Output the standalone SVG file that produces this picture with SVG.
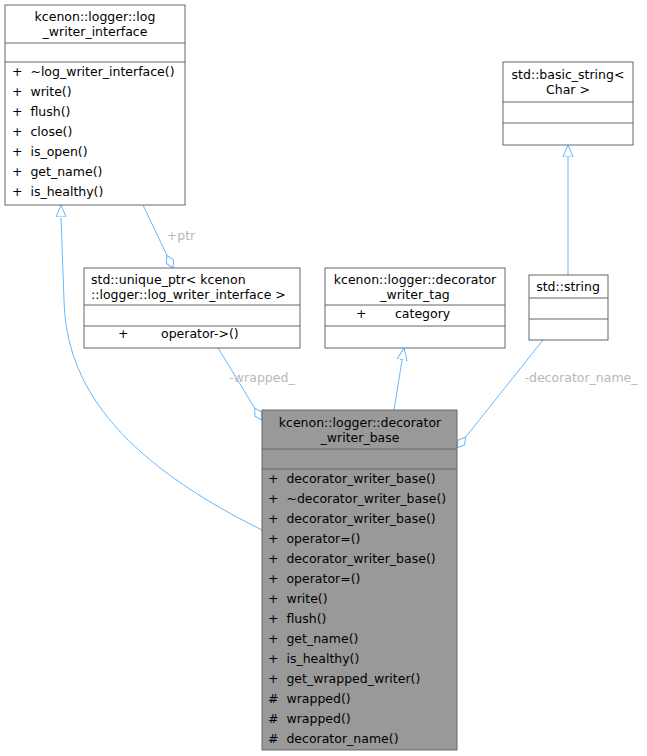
<svg xmlns="http://www.w3.org/2000/svg" width="647" height="756" viewBox="0 0 647 756" xml:space="preserve">
<style>
text{font-family:"DejaVu Sans",sans-serif;font-size:12.5px;fill:#000;white-space:pre}
.c{text-anchor:middle}
.b{fill:#fff;stroke:#666;stroke-width:1}
.m{fill:#999;stroke:#666;stroke-width:1}
.s{stroke:#666;stroke-width:1}
.e{fill:none;stroke:#63b8ff;stroke-width:1}
.l{fill:#b8b8b8;text-anchor:middle}
</style>
<defs>
<marker id="tri" viewBox="0 0 12 12" refX="0" refY="6" markerWidth="12" markerHeight="12" orient="auto" markerUnits="userSpaceOnUse"><path d="M12,1 L0,6 L12,11 Z" fill="#fff" stroke="#63b8ff"/></marker>
<marker id="dia" viewBox="0 0 16 10" refX="0" refY="5" markerWidth="16" markerHeight="10" orient="auto" markerUnits="userSpaceOnUse"><path d="M0,5 L7,1 L14,5 L7,9 Z" fill="#fff" stroke="#63b8ff"/></marker>
</defs>
<g id="edges">
<path class="e" d="M262,530 C100,450 66,370 64,300 L61,218"/>
<path class="e" marker-start="url(#tri)" d="M61,205 L61,206"/>
<path class="e" marker-start="url(#dia)" d="M173,268 L143,205"/>
<text class="l" x="181" y="240">+ptr</text>
<path class="e" marker-start="url(#dia)" d="M262,420 L218,348"/>
<text class="l" x="262" y="382">-wrapped_</text>
<path class="e" marker-start="url(#tri)" d="M404,348 L394,410"/>
<path class="e" marker-start="url(#dia)" d="M457,448 L543,340"/>
<text class="l" x="581" y="382">-decorator_name_</text>
<path class="e" marker-start="url(#tri)" d="M568,145 L568,275"/>
</g>
<g id="log_writer_interface">
<rect class="b" x="5" y="5" width="180" height="200"/>
<line class="s" x1="5" y1="43" x2="185" y2="43"/><line class="s" x1="5" y1="62" x2="185" y2="62"/>
<text class="c" x="95" y="21">kcenon::logger::log</text><text class="c" x="95" y="36">_writer_interface</text>
<text x="12" y="76">+  ~log_writer_interface()</text>
<text x="12" y="96">+  write()</text>
<text x="12" y="116">+  flush()</text>
<text x="12" y="136">+  close()</text>
<text x="12" y="156">+  is_open()</text>
<text x="12" y="176">+  get_name()</text>
<text x="12" y="196">+  is_healthy()</text>
</g>
<g id="unique_ptr">
<rect class="b" x="84" y="268" width="216" height="80"/>
<line class="s" x1="84" y1="305" x2="300" y2="305"/><line class="s" x1="84" y1="326" x2="300" y2="326"/>
<text x="91" y="284">std::unique_ptr&lt; kcenon</text><text x="91" y="299">::logger::log_writer_interface &gt;</text>
<text x="118" y="338">+</text><text x="161" y="338">operator-&gt;()</text>
</g>
<g id="decorator_writer_tag">
<rect class="b" x="325" y="268" width="180" height="80"/>
<line class="s" x1="325" y1="305" x2="505" y2="305"/><line class="s" x1="325" y1="326" x2="505" y2="326"/>
<text class="c" x="415" y="284">kcenon::logger::decorator</text><text class="c" x="415" y="299">_writer_tag</text>
<text x="356" y="318">+</text><text x="395" y="318">category</text>
</g>
<g id="basic_string">
<rect class="b" x="503" y="62" width="130" height="83"/>
<line class="s" x1="503" y1="102" x2="633" y2="102"/><line class="s" x1="503" y1="123" x2="633" y2="123"/>
<text class="c" x="568" y="79">std::basic_string&lt;</text><text class="c" x="568" y="94">Char &gt;</text>
</g>
<g id="string">
<rect class="b" x="529" y="275" width="79" height="65"/>
<line class="s" x1="529" y1="298" x2="608" y2="298"/><line class="s" x1="529" y1="319" x2="608" y2="319"/>
<text class="c" x="568" y="291">std::string</text>
</g>
<g id="decorator_writer_base">
<rect class="m" x="262" y="410" width="195" height="340"/>
<line class="s" x1="262" y1="449" x2="457" y2="449"/><line class="s" x1="262" y1="469" x2="457" y2="469"/>
<text class="c" x="360" y="427">kcenon::logger::decorator</text><text class="c" x="360" y="442">_writer_base</text>
<text x="268" y="483">+  decorator_writer_base()</text>
<text x="268" y="503">+  ~decorator_writer_base()</text>
<text x="268" y="523">+  decorator_writer_base()</text>
<text x="268" y="543">+  operator=()</text>
<text x="268" y="563">+  decorator_writer_base()</text>
<text x="268" y="583">+  operator=()</text>
<text x="268" y="603">+  write()</text>
<text x="268" y="623">+  flush()</text>
<text x="268" y="643">+  get_name()</text>
<text x="268" y="663">+  is_healthy()</text>
<text x="268" y="683">+  get_wrapped_writer()</text>
<text x="268" y="703">#  wrapped()</text>
<text x="268" y="723">#  wrapped()</text>
<text x="268" y="743">#  decorator_name()</text>
</g>
</svg>
